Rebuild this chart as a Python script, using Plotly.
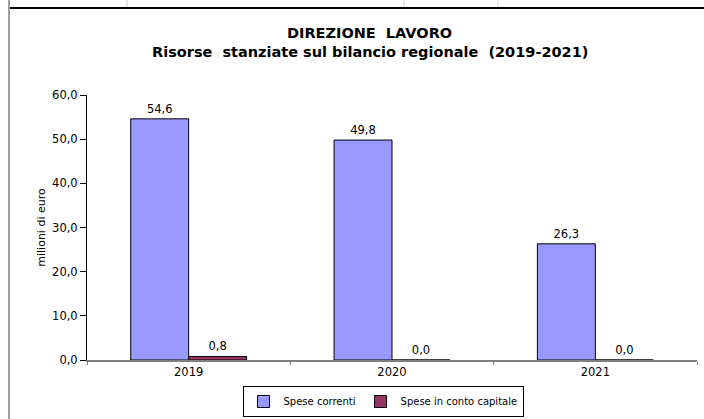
import plotly.graph_objects as go

years = ["2019", "2020", "2021"]
spese_correnti = [54.6, 49.8, 26.3]
spese_capitale = [0.8, 0.0, 0.0]
series_names = ["Spese correnti", "Spese in conto capitale"]
title_line1 = "DIREZIONE  LAVORO"
title_line2 = "Risorse  stanziate sul bilancio regionale  (2019-2021)"
y_title = "milioni di euro"

FONT = "DejaVu Sans"

# plot area in pixels
L, R, T, B = 87, 697, 95, 360
W, H = 704, 419

def px(x):
    return (x - L) / (R - L)

def py(y):
    return (B - y) / (B - T)

fig = go.Figure()
for name, vals, col in [(series_names[0], spese_correnti, "#9999FF"),
                        (series_names[1], spese_capitale, "#993366")]:
    fig.add_trace(go.Bar(
        x=years, y=vals, name=name,
        marker=dict(color=col, line=dict(color="#000000", width=1)),
        text=[f"{v:.1f}".replace(".", ",") for v in vals],
        textposition="outside", cliponaxis=False,
        textfont=dict(family=FONT, size=11.5, color="#000000"),
    ))

shapes = [
    # top border line
    dict(type="line", xref="paper", yref="paper", x0=px(9), x1=px(704), y0=py(8), y1=py(8),
         line=dict(color="#000000", width=2)),
    # left border line
    dict(type="line", xref="paper", yref="paper", x0=px(9), x1=px(9), y0=py(0), y1=py(419),
         line=dict(color="#A0A0A0", width=2)),
]
for gx in [127, 404, 498]:
    shapes.append(dict(type="line", xref="paper", yref="paper", x0=px(gx), x1=px(gx),
                       y0=py(0), y1=py(7), line=dict(color="#D0D0D0", width=1)))

annotations = [
    dict(text="<b>" + title_line1 + "</b>", xref="paper", yref="paper", x=px(369), y=py(33),
         showarrow=False, xanchor="center", yanchor="middle",
         font=dict(family=FONT, size=14.5, color="#000000")),
    dict(text="<b>" + title_line2 + "</b>", xref="paper", yref="paper", x=px(370), y=py(52),
         showarrow=False, xanchor="center", yanchor="middle",
         font=dict(family=FONT, size=14.5, color="#000000")),
]

fig.update_layout(
    width=W, height=H,
    margin=dict(l=L, r=W - R, t=T, b=H - B, autoexpand=False),
    paper_bgcolor="white", plot_bgcolor="white",
    barmode="group", bargap=0.43, bargroupgap=0,
    separators=",.",
    font=dict(family=FONT, size=11, color="#000000"),
    showlegend=True,
    legend=dict(orientation="h", x=px(383), xanchor="center", y=py(417), yanchor="bottom",
                bordercolor="#000000", borderwidth=1, bgcolor="white",
                font=dict(family=FONT, size=10, color="#000000"),
                itemwidth=30, tracegroupgap=0),
    shapes=shapes,
    annotations=annotations,
    xaxis=dict(type="category", showline=True, linecolor="#808080", linewidth=2,
               ticks="outside", tickson="boundaries", ticklen=3, tickcolor="#808080",
               showgrid=False, tickfont=dict(family=FONT, size=11.5, color="#000000")),
    yaxis=dict(range=[0, 60], dtick=10, tickformat=".1f", showline=True,
               linecolor="#000000", linewidth=1, ticks="outside", ticklen=6,
               tickcolor="#000000", showgrid=False, zeroline=False,
               tickfont=dict(family=FONT, size=11.5, color="#000000"),
               title=dict(text=y_title, standoff=4,
                          font=dict(family=FONT, size=11, color="#000000"))),
)

fig.write_html("out.html", config={"displayModeBar": False},
               post_script="document.body.style.margin='0';")
